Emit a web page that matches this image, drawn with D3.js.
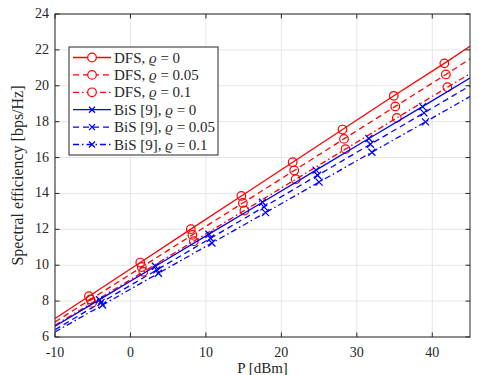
<!DOCTYPE html>
<html>
<head>
<meta charset="utf-8">
<script src="https://cdn.jsdelivr.net/npm/d3@7/dist/d3.min.js"></script>
<style>
  body { margin: 0; background: #fff; }
  text { font-family: "Liberation Serif", "DejaVu Serif", serif; fill: #262626; }
</style>
</head>
<body>
<div id="chart"></div>
<script>
// series data (P in dBm, spectral efficiency in bps/Hz)
// first and last points are the line ends, the rest carry markers
var dfs0x  = [-10, -5.5, 1.3, 8.0, 14.7, 21.5, 28.1, 34.9, 41.6, 45]
var dfs0y  = [7.03, 8.27, 10.15, 12.01, 13.86, 15.74, 17.56, 19.44, 21.25, 22.20]
var dfs05x = [-10, -5.3, 1.5, 8.2, 14.9, 21.7, 28.3, 35.1, 41.8, 45]
var dfs05y = [6.84, 8.09, 9.90, 11.69, 13.47, 15.28, 17.04, 18.85, 20.63, 21.50]
var dfs1x  = [-10, -5.1, 1.7, 8.4, 15.1, 21.9, 28.5, 35.3, 42.0, 45]
var dfs1y  = [6.65, 7.90, 9.63, 11.34, 13.05, 14.79, 16.47, 18.21, 19.92, 20.67]
var bis0x  = [-10, -4.1, 3.3, 10.4, 17.5, 24.6, 31.6, 38.7, 45]
var bis0y  = [6.60, 8.08, 9.94, 11.73, 13.51, 15.30, 17.06, 18.84, 20.43]
var bis05x = [-10, -3.9, 3.5, 10.6, 17.7, 24.8, 31.8, 38.9, 45]
var bis05y = [6.41, 7.92, 9.74, 11.50, 13.25, 15.01, 16.74, 18.49, 20.00]
var bis1x  = [-10, -3.7, 3.7, 10.8, 17.9, 25.0, 32.0, 39.1, 45]
var bis1y  = [6.28, 7.78, 9.55, 11.24, 12.93, 14.63, 16.30, 17.99, 19.40]

var xTicks = [-10, 0, 10, 20, 30, 40]
var yTicks = [6, 8, 10, 12, 14, 16, 18, 20, 22, 24]

var series = [
  {name: 'DFS, ', rho: '0',    x: dfs0x,  y: dfs0y,  color: '#ff0000', dash: null,          mark: 'o'},
  {name: 'DFS, ', rho: '0.05', x: dfs05x, y: dfs05y, color: '#ff0000', dash: '6,4',         mark: 'o'},
  {name: 'DFS, ', rho: '0.1',  x: dfs1x,  y: dfs1y,  color: '#ff0000', dash: '6,3,1.5,3',   mark: 'o'},
  {name: 'BiS [9], ', rho: '0',    x: bis0x,  y: bis0y,  color: '#0000ff', dash: null,        mark: 'x'},
  {name: 'BiS [9], ', rho: '0.05', x: bis05x, y: bis05y, color: '#0000ff', dash: '6,4',       mark: 'x'},
  {name: 'BiS [9], ', rho: '0.1',  x: bis1x,  y: bis1y,  color: '#0000ff', dash: '6,3,1.5,3', mark: 'x'}
]

var W = 479, H = 375
var m = {left: 55, right: 9, top: 14, bottom: 38}

var svg = d3.select('#chart').append('svg')
  .attr('width', W).attr('height', H)

var x = d3.scaleLinear().domain([-10, 45]).range([m.left, W - m.right])
var y = d3.scaleLinear().domain([6, 24]).range([H - m.bottom, m.top])

// grid
svg.append('g').selectAll('line').data(xTicks).enter().append('line')
  .attr('x1', d => x(d)).attr('x2', d => x(d))
  .attr('y1', y(6)).attr('y2', y(24))
  .attr('stroke', '#e6e6e6').attr('stroke-width', 1)
svg.append('g').selectAll('line').data(yTicks).enter().append('line')
  .attr('x1', x(-10)).attr('x2', x(45))
  .attr('y1', d => y(d)).attr('y2', d => y(d))
  .attr('stroke', '#e6e6e6').attr('stroke-width', 1)

// clip for lines
svg.append('clipPath').attr('id', 'clip').append('rect')
  .attr('x', x(-10)).attr('y', y(24))
  .attr('width', x(45) - x(-10)).attr('height', y(6) - y(24))

var line = d3.line().x(d => x(d[0])).y(d => y(d[1]))
var plot = svg.append('g').attr('clip-path', 'url(#clip)')

series.forEach(function(s) {
  var pts = s.x.map((v, i) => [v, s.y[i]])
  plot.append('path').datum(pts)
    .attr('d', line)
    .attr('fill', 'none')
    .attr('stroke', s.color)
    .attr('stroke-width', 1.3)
    .attr('stroke-dasharray', s.dash)
  var mk = pts.slice(1, -1)
  if (s.mark == 'o') {
    plot.selectAll(null).data(mk).enter().append('circle')
      .attr('cx', d => x(d[0])).attr('cy', d => y(d[1])).attr('r', 4.3)
      .attr('fill', 'none').attr('stroke', s.color).attr('stroke-width', 1.2)
  } else {
    plot.selectAll(null).data(mk).enter().append('path')
      .attr('d', d => { var cx = x(d[0]), cy = y(d[1]), r = 3.5
        return 'M' + (cx - r) + ',' + (cy - r) + 'L' + (cx + r) + ',' + (cy + r) +
               'M' + (cx - r) + ',' + (cy + r) + 'L' + (cx + r) + ',' + (cy - r) })
      .attr('stroke', s.color).attr('stroke-width', 1.3)
  }
})

// axes, MATLAB style: ticks inside, box all round
var axCol = '#262626'
var ax = svg.append('g')
ax.append('rect')
  .attr('x', x(-10)).attr('y', y(24))
  .attr('width', x(45) - x(-10)).attr('height', y(6) - y(24))
  .attr('fill', 'none').attr('stroke', axCol).attr('stroke-width', 1)

var tl = 4.5
xTicks.forEach(function(t) {
  ax.append('line').attr('x1', x(t)).attr('x2', x(t)).attr('y1', y(6)).attr('y2', y(6) - tl).attr('stroke', axCol)
  ax.append('line').attr('x1', x(t)).attr('x2', x(t)).attr('y1', y(24)).attr('y2', y(24) + tl).attr('stroke', axCol)
  ax.append('text').attr('x', x(t)).attr('y', y(6) + 19.5)
    .attr('text-anchor', 'middle').attr('font-size', 14).text(t)
})
yTicks.forEach(function(t) {
  ax.append('line').attr('x1', x(-10)).attr('x2', x(-10) + tl).attr('y1', y(t)).attr('y2', y(t)).attr('stroke', axCol)
  ax.append('line').attr('x1', x(45)).attr('x2', x(45) - tl).attr('y1', y(t)).attr('y2', y(t)).attr('stroke', axCol)
  ax.append('text').attr('x', x(-10) - 6).attr('y', y(t) + 4)
    .attr('text-anchor', 'end').attr('font-size', 14).text(t)
})

svg.append('text').attr('x', (x(-10) + x(45)) / 2).attr('y', H - 2)
  .attr('text-anchor', 'middle').attr('font-size', 15).text('P [dBm]')
svg.append('text')
  .attr('transform', 'translate(23,' + ((y(6) + y(24)) / 2) + ') rotate(-90)')
  .attr('text-anchor', 'middle').attr('font-size', 16).text('Spectral efficiency [bps/Hz]')

// legend
var lg = svg.append('g').attr('transform', 'translate(69,47)')
lg.append('rect').attr('width', 149).attr('height', 108)
  .attr('fill', '#fff').attr('stroke', axCol).attr('stroke-width', 1)
series.forEach(function(s, i) {
  var cy = 10.5 + i * 17.4
  lg.append('line').attr('x1', 4).attr('x2', 42).attr('y1', cy).attr('y2', cy)
    .attr('stroke', s.color).attr('stroke-width', 1.3).attr('stroke-dasharray', s.dash)
  if (s.mark == 'o') {
    lg.append('circle').attr('cx', 23).attr('cy', cy).attr('r', 4.3)
      .attr('fill', '#fff').attr('stroke', s.color).attr('stroke-width', 1.2)
  } else {
    var r = 3
    lg.append('path').attr('d', 'M' + (23 - r) + ',' + (cy - r) + 'L' + (23 + r) + ',' + (cy + r) +
      'M' + (23 - r) + ',' + (cy + r) + 'L' + (23 + r) + ',' + (cy - r))
      .attr('stroke', s.color).attr('stroke-width', 1.3)
  }
  var t = lg.append('text').attr('x', 45).attr('y', cy + 5).attr('font-size', 15)
  t.append('tspan').text(s.name)
  t.append('tspan').attr('font-style', 'italic').text('\u03F1')
  t.append('tspan').text(' = ' + s.rho)
})
</script>
</body>
</html>
